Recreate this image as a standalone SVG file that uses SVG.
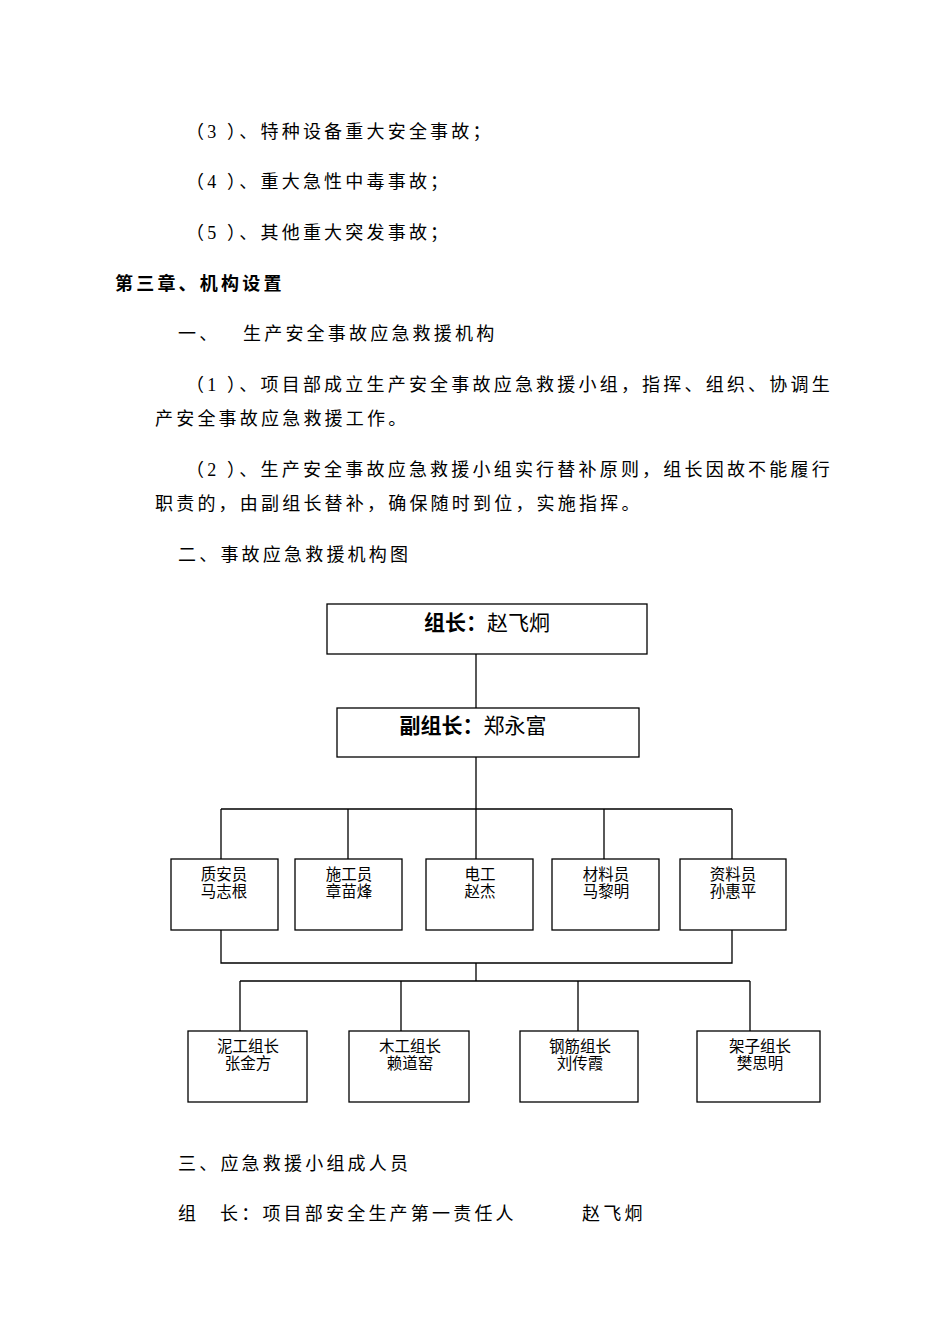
<svg xmlns="http://www.w3.org/2000/svg" width="950" height="1344" viewBox="0 0 950 1344">
<style>
text{font-family:"Liberation Serif","Noto Sans CJK SC",serif;fill:#000}
.p{font-size:18px;letter-spacing:3.2px}
.b{font-weight:bold}
.n{font-size:15.5px;text-anchor:middle}
.h{font-size:21px;text-anchor:middle}
rect{fill:#fff;stroke:#000;stroke-width:1.3}
#conn path{fill:none;stroke:#000;stroke-width:1.3}
</style>
<rect x="0" y="0" width="950" height="1344" style="stroke:none"/>
<g id="body">
<text class="p" x="186" y="138">（3 ）、特种设备重大安全事故；</text>
<text class="p" x="186" y="188">（4 ）、重大急性中毒事故；</text>
<text class="p" x="186" y="239">（5 ）、其他重大突发事故；</text>
<text class="p b" x="115" y="290">第三章、机构设置</text>
<text class="p" x="178" y="340">一、</text>
<text class="p" x="243" y="340">生产安全事故应急救援机构</text>
<text class="p" x="186" y="391">（1 ）、项目部成立生产安全事故应急救援小组，指挥、组织、协调生</text>
<text class="p" x="155" y="425">产安全事故应急救援工作。</text>
<text class="p" x="186" y="476">（2 ）、生产安全事故应急救援小组实行替补原则，组长因故不能履行</text>
<text class="p" x="155" y="510">职责的，由副组长替补，确保随时到位，实施指挥。</text>
<text class="p" x="178" y="561">二、事故应急救援机构图</text>
<text class="p" x="178" y="1170">三、应急救援小组成人员</text>
<text class="p" x="178" y="1220">组</text>
<text class="p" x="220" y="1220">长：项目部安全生产第一责任人</text>
<text class="p" x="582" y="1220">赵飞炯</text>
</g>
<g id="conn">
<path d="M476 654V708M476 757V859M221 809H732M221 809V859M348 809V859M604 809V859M732 809V859"/>
<path d="M221 930V963H732V930M476 963V981M240 981H750M240 981V1031M401 981V1031M578 981V1031M750 981V1031"/>
</g>
<g id="n1"><rect x="327" y="604" width="320" height="50"/><text class="h" x="487" y="630"><tspan class="b">组长：</tspan>赵飞炯</text></g>
<g id="n2"><rect x="337" y="708" width="302" height="49"/><text class="h" x="473" y="733"><tspan class="b">副组长：</tspan>郑永富</text></g>
<g id="n3"><rect x="171" y="859" width="107" height="71"/><text class="n" x="224" y="880">质安员</text><text class="n" x="224" y="897">马志根</text></g>
<g id="n4"><rect x="295" y="859" width="107" height="71"/><text class="n" x="349" y="880">施工员</text><text class="n" x="349" y="897">章苗烽</text></g>
<g id="n5"><rect x="426" y="859" width="107" height="71"/><text class="n" x="480" y="880">电工</text><text class="n" x="480" y="897">赵杰</text></g>
<g id="n6"><rect x="552" y="859" width="107" height="71"/><text class="n" x="606" y="880">材料员</text><text class="n" x="606" y="897">马黎明</text></g>
<g id="n7"><rect x="680" y="859" width="106" height="71"/><text class="n" x="733" y="880">资料员</text><text class="n" x="733" y="897">孙惠平</text></g>
<g id="n8"><rect x="188" y="1031" width="119" height="71"/><text class="n" x="248" y="1052">泥工组长</text><text class="n" x="248" y="1069">张金方</text></g>
<g id="n9"><rect x="349" y="1031" width="120" height="71"/><text class="n" x="410" y="1052">木工组长</text><text class="n" x="410" y="1069">赖道窑</text></g>
<g id="n10"><rect x="520" y="1031" width="118" height="71"/><text class="n" x="580" y="1052">钢筋组长</text><text class="n" x="580" y="1069">刘传霞</text></g>
<g id="n11"><rect x="697" y="1031" width="123" height="71"/><text class="n" x="760" y="1052">架子组长</text><text class="n" x="760" y="1069">樊思明</text></g>
</svg>
